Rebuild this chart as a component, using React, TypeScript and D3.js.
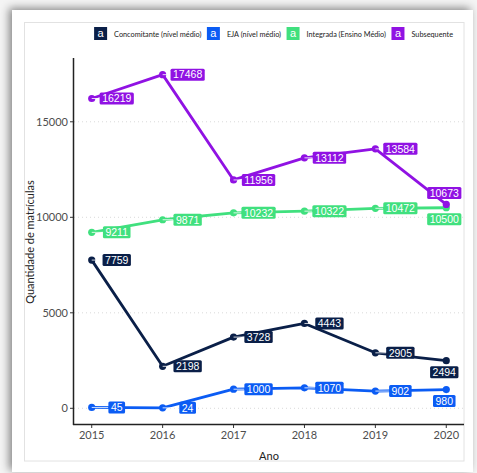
import React, { useEffect, useRef } from "react";
import * as d3 from "d3";

const years = [2015, 2016, 2017, 2018, 2019, 2020];
const seriesNames = [
  "Concomitante (nível médio)",
  "EJA (nível médio)",
  "Integrada (Ensino Médio)",
  "Subsequente",
];
const concomitante = [7759, 2198, 3728, 4443, 2905, 2494];
const eja = [45, 24, 1000, 1070, 902, 980];
const integrada = [9211, 9871, 10232, 10322, 10472, 10500];
const subsequente = [16219, 17468, 11956, 13112, 13584, 10673];
const seriesColors = ["#0a1f48", "#0b5cf4", "#40e07e", "#9012e3"];
// placement of the last (2020) label: -1 above, +1 below
const lastLabelSide = [1, 1, 1, -1];
const yTicks = [0, 5000, 10000, 15000];

export default function App() {
  const ref = useRef<SVGSVGElement>(null);
  useEffect(() => {
    const svg = d3.select(ref.current);
    svg.selectAll("*").remove();
    const W = 477, H = 473;
    const defs = svg.append("defs");
    const f = defs.append("filter").attr("id", "sh").attr("x", "-10%").attr("y", "-10%").attr("width", "120%").attr("height", "120%");
    f.append("feDropShadow").attr("dx", -3).attr("dy", -2).attr("stdDeviation", 4).attr("flood-color", "#000").attr("flood-opacity", 0.45);

    svg.append("rect").attr("width", W).attr("height", H).attr("fill", "#f4f4f4");
    svg.append("rect").attr("x", 12).attr("y", 10).attr("width", 461).attr("height", 462).attr("fill", "#fff").attr("filter", "url(#sh)");
    svg.append("rect").attr("x", 24.5).attr("y", 22.5).attr("width", 439.5).attr("height", 438.5).attr("fill", "none").attr("stroke", "#e2e2e2").attr("stroke-width", 1);

    const x = d3.scaleLinear().domain([2014.75, 2020.25]).range([74, 464]);
    const y = d3.scaleLinear().domain([-874, 18340]).range([425, 58]);

    // gridlines
    svg.append("g").selectAll("line").data(yTicks).join("line")
      .attr("x1", 74).attr("x2", 464).attr("y1", (d) => y(d)).attr("y2", (d) => y(d))
      .attr("stroke", "#cfcfcf").attr("stroke-width", 0.8).attr("stroke-dasharray", "1,3");

    // axes
    const ax = svg.append("g").attr("font-family", "Lato, sans-serif").attr("font-size", 11).attr("fill", "#4d4d4d");
    ax.append("line").attr("x1", 73.5).attr("x2", 73.5).attr("y1", 58).attr("y2", 425).attr("stroke", "#222").attr("stroke-width", 1.5);
    ax.append("line").attr("x1", 73).attr("x2", 464).attr("y1", 424.5).attr("y2", 424.5).attr("stroke", "#222").attr("stroke-width", 1.5);
    yTicks.forEach((t) => {
      ax.append("line").attr("x1", 70).attr("x2", 73).attr("y1", y(t)).attr("y2", y(t)).attr("stroke", "#333").attr("stroke-width", 1);
      ax.append("text").attr("x", 68).attr("y", y(t)).attr("dy", "0.36em").attr("text-anchor", "end").text(String(t));
    });
    years.forEach((yr) => {
      ax.append("line").attr("x1", x(yr)).attr("x2", x(yr)).attr("y1", 425).attr("y2", 428).attr("stroke", "#333").attr("stroke-width", 1);
      ax.append("text").attr("x", x(yr)).attr("y", 439).attr("text-anchor", "middle").text(String(yr));
    });
    ax.append("text").attr("x", 269).attr("y", 459.5).attr("text-anchor", "middle").attr("fill", "#222").text("Ano");
    ax.append("text").attr("transform", `translate(34,242) rotate(-90)`).attr("text-anchor", "middle").attr("fill", "#222").text("Quantidade de matrículas");

    const data = [concomitante, eja, integrada, subsequente];
    const line = d3.line<number>().x((_, i) => x(years[i])).y((d) => y(d));

    data.forEach((vals, s) => {
      svg.append("path").attr("d", line(vals)).attr("fill", "none").attr("stroke", seriesColors[s]).attr("stroke-width", 2.8).attr("stroke-linejoin", "round");
    });
    data.forEach((vals, s) => {
      svg.append("g").selectAll("circle").data(vals).join("circle")
        .attr("cx", (_, i) => x(years[i])).attr("cy", (d) => y(d)).attr("r", 3.6).attr("fill", seriesColors[s]);
    });

    // labels
    data.forEach((vals, s) => {
      vals.forEach((v, i) => {
        const px = x(years[i]), py = y(v);
        const g = svg.append("g");
        const t = g.append("text").attr("font-family", "'Liberation Sans', Arial, sans-serif").attr("font-size", 10.5)
          .attr("fill", "#fff").attr("text-anchor", "middle").attr("dy", "0.36em").text(String(v));
        const w = (t.node() as SVGTextElement).getComputedTextLength() + 5;
        const h = 12;
        let cx: number, cy: number;
        const last = i === years.length - 1;
        if (!last) {
          cx = px + 25; cy = py;
        } else {
          cx = px - 2; cy = py + lastLabelSide[s] * 11.5;
        }
        if (!last) {
          g.insert("line", "text").attr("x1", px).attr("y1", py).attr("x2", cx - w / 2).attr("y2", cy)
            .attr("stroke", "#fff").attr("stroke-width", 0.8);
        }
        g.insert("rect", "text").attr("x", cx - w / 2).attr("y", cy - h / 2).attr("width", w).attr("height", h)
          .attr("rx", 1.5).attr("fill", seriesColors[s]);
        t.attr("x", cx).attr("y", cy);
      });
    });

    // legend
    const lg = svg.append("g");
    const items: { g: any; w: number }[] = [];
    seriesNames.forEach((n, s) => {
      const g = lg.append("g");
      g.append("rect").attr("x", 0).attr("y", 27).attr("width", 13).attr("height", 13).attr("fill", seriesColors[s]);
      g.append("text").attr("x", 6.5).attr("y", 37).attr("text-anchor", "middle").attr("font-family", "'Liberation Sans', Arial, sans-serif")
        .attr("font-size", 11).attr("fill", "#fff").text("a");
      const t = g.append("text").attr("x", 20).attr("y", 36.5).attr("font-family", "Lato, sans-serif").attr("font-size", 7.3)
        .attr("fill", "#222").text(n);
      const w = 20 + (t.node() as SVGTextElement).getComputedTextLength();
      items.push({ g, w });
    });
    const gap = 5.5;
    const total = items.reduce((a, b) => a + b.w, 0) + gap * (items.length - 1);
    let cur = 453 - total;
    items.forEach((it) => {
      it.g.attr("transform", `translate(${cur},0)`);
      cur += it.w + gap;
    });
  }, []);
  return (
    <svg ref={ref} width={477} height={473} style={{ position: "absolute", left: 0, top: 0, display: "block" }} />
  );
}
